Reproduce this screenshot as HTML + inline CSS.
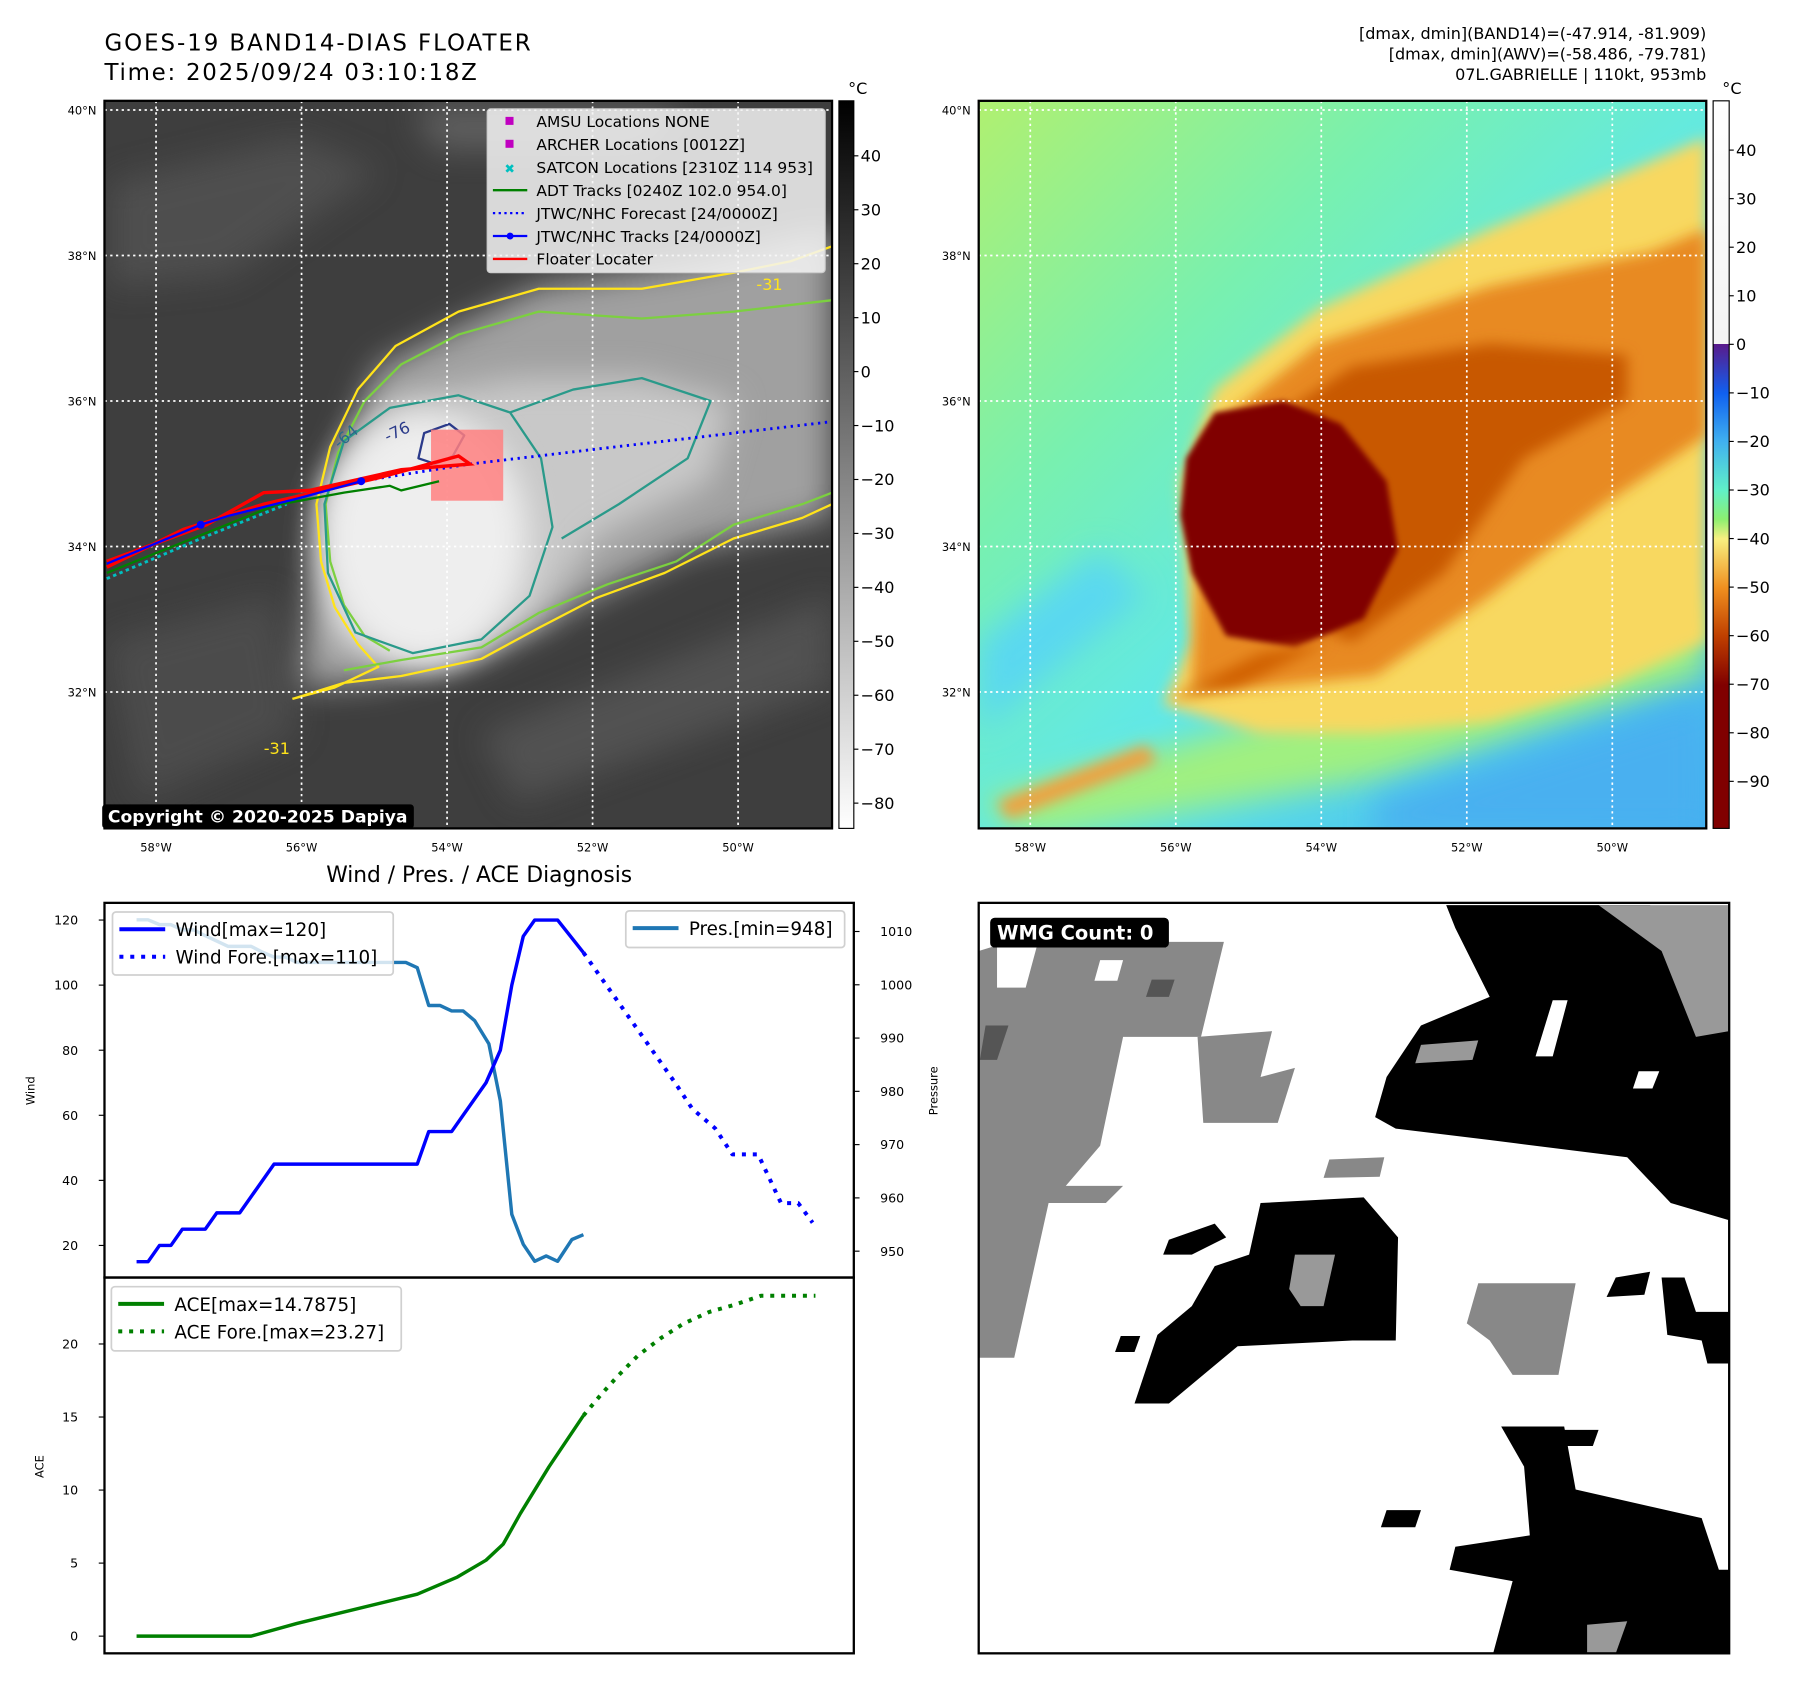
<!DOCTYPE html>
<html><head><meta charset="utf-8">
<style>
html,body{margin:0;padding:0;background:#fff;width:1797px;height:1690px;overflow:hidden}
svg{display:block}
text{font-family:"DejaVu Sans","Liberation Sans",sans-serif}
</style></head>
<body>
<svg id="root" width="1797" height="1690" viewBox="0 0 1568 1475" xmlns="http://www.w3.org/2000/svg">
<defs>
  <filter id="b6" x="-20%" y="-20%" width="140%" height="140%"><feGaussianBlur stdDeviation="6"/></filter>
  <filter id="b14" x="-30%" y="-30%" width="160%" height="160%"><feGaussianBlur stdDeviation="14"/></filter>
  <filter id="b3"><feGaussianBlur stdDeviation="2.5"/></filter>
  <clipPath id="clipL"><rect x="91" y="88" width="635" height="635"/></clipPath>
  <clipPath id="clipR"><rect x="854" y="88" width="635" height="635"/></clipPath>
  <clipPath id="clipW"><rect x="854" y="788" width="655" height="655"/></clipPath>
  <linearGradient id="cbGray" x1="0" y1="0" x2="0" y2="1">
    <stop offset="0" stop-color="#000"/><stop offset="1" stop-color="#fff"/>
  </linearGradient>
  <linearGradient id="cbJet" x1="0" y1="0" x2="0" y2="1">
    <stop offset="0" stop-color="#ffffff"/><stop offset="0.334" stop-color="#f4f4f4"/>
    <stop offset="0.334" stop-color="#5a1a8a"/><stop offset="0.402" stop-color="#1060f0"/>
    <stop offset="0.468" stop-color="#40b0f0"/><stop offset="0.535" stop-color="#60f0c8"/>
    <stop offset="0.575" stop-color="#8cf070"/><stop offset="0.602" stop-color="#f8f080"/>
    <stop offset="0.669" stop-color="#f09020"/><stop offset="0.735" stop-color="#c04000"/>
    <stop offset="0.803" stop-color="#800000"/><stop offset="1" stop-color="#800000"/>
  </linearGradient>
  <linearGradient id="bgR" x1="0" y1="0" x2="1" y2="1">
    <stop offset="0" stop-color="#b0f070"/><stop offset="0.3" stop-color="#78f0b0"/>
    <stop offset="0.55" stop-color="#60e8e8"/><stop offset="1" stop-color="#40b0f0"/>
  </linearGradient>
</defs>

<!-- Titles -->
<text x="91" y="44" font-size="20" textLength="372">GOES-19 BAND14-DIAS FLOATER</text>
<text x="91" y="70" font-size="20" textLength="325">Time: 2025/09/24 03:10:18Z</text>
<g font-size="14" text-anchor="end">
  <text x="1489" y="34">[dmax, dmin](BAND14)=(-47.914, -81.909)</text>
  <text x="1489" y="52">[dmax, dmin](AWV)=(-58.486, -79.781)</text>
  <text x="1489" y="70">07L.GABRIELLE | 110kt, 953mb</text>
</g>

<!-- LEFT MAP -->
<g>
 <g clip-path="url(#clipL)">
  <rect x="91" y="88" width="635" height="635" fill="#3e3e3e"/>
  <g filter="url(#b14)" opacity="0.6">
    <path d="M95,160 L260,120 L330,150 L200,240 L95,250Z" fill="#5a5a5a"/>
    <path d="M91,560 L240,520 L260,640 L120,700Z" fill="#555"/>
    <path d="M420,640 L726,520 L726,600 L450,700Z" fill="#5e5e5e"/>
    <path d="M360,92 L600,92 L560,130 L380,130Z" fill="#777"/>
  </g>
  <path filter="url(#b14)" d="M262,600 L280,440 L330,320 L470,250 L600,230 L726,200 L726,450 L600,480 L500,530 L420,570 L330,595Z" fill="#a0a0a0"/>
  <path filter="url(#b14)" d="M290,560 L285,430 L340,350 L450,330 L560,330 L640,350 L620,420 L520,470 L470,540 L380,580Z" fill="#c8c8c8"/>
  <ellipse filter="url(#b14)" cx="370" cy="470" rx="90" ry="110" fill="#eeeeee"/>
  <g fill="none" stroke-width="2" stroke-linejoin="round">
    <path stroke="#ffe31a" d="M255,610 L300,596 L350,590 L420,575 L470,548 L520,522 L580,500 L640,470 L700,452 L726,440 M726,215 L690,228 L640,238 L560,252 L470,252 L400,272 L345,302 L312,340 L288,390 L276,440 L280,490 L292,530 L312,562 L330,582 L292,600 L255,610"/>
    <path stroke="#7cd040" d="M300,585 L350,576 L420,565 L470,535 L530,510 L590,490 L640,458 L700,440 L726,430 M726,262 L640,272 L560,278 L470,272 L400,292 L350,318 L318,350 L295,395 L284,440 L288,490 L300,528 L318,555 L340,568"/>
    <path stroke="#2a9a8a" d="M283,440 L300,385 L340,356 L400,345 L445,360 L472,400 L482,460 L462,520 L420,558 L360,570 L310,552 L286,500Z M445,360 L500,340 L560,330 L620,350 L600,400 L540,440 L490,470"/>
    <path stroke="#2a3a8a" d="M365,400 L370,378 L392,370 L405,380 L395,398 L380,405Z"/>
  </g>
  <g font-size="14"><text x="660" y="253" fill="#ffe31a">-31</text><text x="230" y="658" fill="#ffe31a">-31</text></g>
  <g font-size="14"><text x="296" y="392" fill="#2a6a8a" transform="rotate(-40 296 392)">-64</text><text x="338" y="386" fill="#2a3a8a" transform="rotate(-25 338 386)">-76</text></g>
  <g stroke="#fff" stroke-width="1.5" stroke-dasharray="2,3">
    <line x1="91" x2="726" y1="96" y2="96"/><line x1="91" x2="726" y1="223" y2="223"/><line x1="91" x2="726" y1="350" y2="350"/><line x1="91" x2="726" y1="477" y2="477"/><line x1="91" x2="726" y1="604" y2="604"/>
    <line y1="88" y2="723" x1="136" x2="136"/><line y1="88" y2="723" x1="263" x2="263"/><line y1="88" y2="723" x1="390" x2="390"/><line y1="88" y2="723" x1="517" x2="517"/><line y1="88" y2="723" x1="644" x2="644"/>
  </g>
  <rect x="376" y="375" width="63" height="62" fill="#ff8080" opacity="0.85"/>
  <polyline points="315,420 410,405 520,392 726,368" fill="none" stroke="#0000ff" stroke-width="2.5" stroke-dasharray="2,4"/>
  <polyline points="93,505 180,468 250,440" fill="none" stroke="#00c0c0" stroke-width="2.5" stroke-dasharray="3,3"/>
  <polyline points="93,500 240,441 300,430 340,424 350,428 383,420" fill="none" stroke="#008000" stroke-width="2"/>
  <polyline points="93,490 180,458 230,430 270,428 350,410 410,405 400,398 330,417 230,440 160,462 93,495" fill="none" stroke="#ff0000" stroke-width="3"/>
  <polyline points="93,492 175,458 200,450 260,435 315,420" fill="none" stroke="#0000ff" stroke-width="2"/>
  <circle cx="175" cy="458" r="3.5" fill="#0000ff"/><circle cx="315" cy="420" r="3.5" fill="#0000ff"/>
 </g>
 <rect x="91" y="88" width="635" height="635" fill="none" stroke="#000" stroke-width="2"/>
 <g>
  <rect x="425" y="95" width="295" height="143" rx="3" fill="#f4f4f4" fill-opacity="0.85" stroke="#ccc"/>
  <rect x="441" y="102" width="7" height="7" fill="#c000c0"/>
  <rect x="441" y="122" width="7" height="7" fill="#c000c0"/>
  <text x="440" y="151" font-size="11" fill="#00c0c0">✖</text>
  <line x1="430" x2="460" y1="166" y2="166" stroke="#008000" stroke-width="2"/>
  <line x1="430" x2="460" y1="186" y2="186" stroke="#0000ff" stroke-width="2" stroke-dasharray="2,3"/>
  <line x1="430" x2="460" y1="206" y2="206" stroke="#0000ff" stroke-width="2"/><circle cx="445" cy="206" r="3" fill="#0000ff"/>
  <line x1="430" x2="460" y1="226" y2="226" stroke="#ff0000" stroke-width="2"/>
  <g font-size="13.5">
   <text x="468" y="111">AMSU Locations NONE</text>
   <text x="468" y="131">ARCHER Locations [0012Z]</text>
   <text x="468" y="151">SATCON Locations [2310Z 114 953]</text>
   <text x="468" y="171">ADT Tracks [0240Z 102.0 954.0]</text>
   <text x="468" y="191">JTWC/NHC Forecast [24/0000Z]</text>
   <text x="468" y="211">JTWC/NHC Tracks [24/0000Z]</text>
   <text x="468" y="231">Floater Locater</text>
  </g>
 </g>
 <rect x="89" y="702" width="272" height="21" rx="3" fill="#000"/>
 <text x="94" y="718" font-size="15" font-weight="bold" fill="#fff">Copyright © 2020-2025 Dapiya</text>
 <g id="latL" font-size="10"></g>
 <rect x="732" y="88" width="13" height="635" fill="url(#cbGray)" stroke="#000" stroke-width="1"/>
 <text x="740" y="82" font-size="14">°C</text>
 <g id="cbL" font-size="14"></g>
</g>

<!-- RIGHT MAP -->
<g>
 <g clip-path="url(#clipR)">
  <rect x="854" y="88" width="635" height="635" fill="url(#bgR)"/>
  <path filter="url(#b14)" d="M854,560 L960,480 L1000,520 L854,640Z" fill="#5ad8f0"/>
  <path filter="url(#b14)" d="M854,700 L1200,600 L1489,520 L1489,590 L1200,680 L900,730Z" fill="#a0f080"/>
  <path filter="url(#b14)" d="M1200,700 L1489,610 L1489,730 L1200,730Z" fill="#48b0f0"/>
  <path filter="url(#b6)" d="M1015,615 L1040,560 L1030,420 L1060,340 L1150,270 L1300,200 L1420,150 L1489,120 L1489,560 L1400,600 L1300,630 L1200,640 L1100,640Z" fill="#f8d860"/>
  <path filter="url(#b6)" d="M1040,600 L1050,380 L1150,300 L1300,250 L1440,220 L1489,200 L1489,380 L1400,440 L1300,520 L1200,590 L1100,600Z" fill="#e88a20"/>
  <path filter="url(#b6)" d="M1080,520 L1090,380 L1180,320 L1300,300 L1420,310 L1420,350 L1330,400 L1260,500 L1180,560Z" fill="#c85800"/>
  <path filter="url(#b3)" d="M1035,400 L1060,360 L1120,350 L1170,370 L1210,420 L1220,480 L1190,540 L1130,565 L1070,555 L1040,500 L1030,450Z" fill="#800000"/>
  <path filter="url(#b6)" d="M1020,610 L1100,570 L1160,560 L1080,600Z" fill="#d06000"/>
  <path filter="url(#b6)" d="M870,700 L1000,650 L1010,665 L880,715Z" fill="#f0a040"/>
  <g stroke="#fff" stroke-width="1.5" stroke-dasharray="2,3">
    <line x1="854" x2="1489" y1="96" y2="96"/><line x1="854" x2="1489" y1="223" y2="223"/><line x1="854" x2="1489" y1="350" y2="350"/><line x1="854" x2="1489" y1="477" y2="477"/><line x1="854" x2="1489" y1="604" y2="604"/>
    <line y1="88" y2="723" x1="899" x2="899"/><line y1="88" y2="723" x1="1026" x2="1026"/><line y1="88" y2="723" x1="1153" x2="1153"/><line y1="88" y2="723" x1="1280" x2="1280"/><line y1="88" y2="723" x1="1407" x2="1407"/>
  </g>
 </g>
 <rect x="854" y="88" width="635" height="635" fill="none" stroke="#000" stroke-width="2"/>
 <g id="latR" font-size="10"></g>
 <rect x="1495" y="88" width="14" height="635" fill="url(#cbJet)" stroke="#000" stroke-width="1"/>
 <text x="1503" y="82" font-size="14">°C</text>
 <g id="cbR" font-size="14"></g>
</g>

<!-- DIAGNOSIS CHART -->
<text x="418" y="770" font-size="19" text-anchor="middle">Wind / Pres. / ACE Diagnosis</text>
<g id="chart"></g>

<!-- WMG MAP -->
<g>
 <g clip-path="url(#clipW)">
  <rect x="854" y="788" width="655" height="655" fill="#fff"/>
  <g fill="#888">
   <polygon points="854,830 880,822 1068,822 1048,905 980,905 960,1000 930,1035 980,1035 965,1050 915,1050 895,1140 885,1185 854,1185"/>
   <polygon points="1045,905 1110,900 1100,940 1130,932 1115,980 1050,980"/>
   <polygon points="1290,1120 1375,1120 1360,1200 1320,1200 1300,1170 1280,1155"/>
   <polygon points="1160,1012 1208,1010 1204,1027 1155,1028"/>
  </g>
  <g fill="#fff"><polygon points="960,838 980,838 975,856 955,856"/><polygon points="870,825 905,825 895,862 870,862"/></g>
  <g fill="#555"><polygon points="1005,855 1025,855 1020,870 1000,870"/><polygon points="860,895 880,895 870,925 855,925"/></g>
  <g fill="#000">
   <polygon points="1262,790 1440,790 1480,850 1509,900 1509,1065 1458,1050 1420,1010 1300,995 1218,985 1200,975 1210,940 1240,895 1300,870 1270,810"/>
   <polygon points="1100,1050 1190,1045 1220,1080 1218,1170 1180,1170 1080,1175 1050,1200 1020,1225 990,1225 1010,1165 1040,1140 1060,1105 1090,1095"/>
   <polygon points="1020,1082 1060,1068 1070,1080 1040,1095 1015,1095"/>
   <polygon points="1310,1245 1365,1245 1375,1300 1485,1325 1500,1370 1509,1370 1509,1443 1303,1443 1320,1380 1265,1370 1270,1350 1335,1340 1330,1280"/>
   <polygon points="1450,1115 1470,1115 1480,1145 1509,1145 1509,1190 1490,1190 1485,1170 1455,1165"/>
   <polygon points="1410,1115 1440,1110 1435,1130 1402,1132"/>
   <polygon points="1210,1318 1240,1318 1235,1333 1205,1333"/>
   <polygon points="1360,1248 1395,1248 1390,1262 1357,1262"/>
   <polygon points="978,1166 995,1166 990,1180 973,1180"/>
  </g>
  <g fill="#999">
   <polygon points="1395,790 1509,790 1509,900 1480,905 1450,830"/>
   <polygon points="1130,1095 1165,1095 1155,1140 1135,1140 1125,1125"/>
   <polygon points="1240,912 1290,908 1285,925 1235,928"/>
   <polygon points="1385,1418 1420,1415 1410,1443 1385,1443"/>
  </g>
  <g fill="#fff"><polygon points="1355,873 1368,873 1355,922 1340,922"/><polygon points="1430,935 1448,935 1442,950 1425,950"/></g>
 </g>
 <rect x="854" y="788" width="655" height="655" fill="none" stroke="#000" stroke-width="2"/>
 <rect x="864" y="801" width="156" height="26" rx="4" fill="#000"/>
 <text x="870" y="820" font-size="17" font-weight="bold" fill="#fff">WMG Count: 0</text>
</g>

<script>
// ---- chart data ----
const windT = [0,1,2,3,4,6,7,9,10,12,24.5,25.5,27.5,28.5,30.5,31.75,32.75,33.75,34.75,36.75,39];
const windV = [15,15,20,20,25,25,30,30,35,45,45,55,55,60,70,80,100,115,120,120,110];
const windFT = [39,41,43,45,47,48.5,50.5,52,54.25,56.25,57.75,59];
const windFV = [110,100,90,80,70,62,56,48,48,33,33,27];
const presT = [0,1,2,3,4,5,6,8,10,11,12,13,14,23.5,24.5,25.5,26.5,27.5,28.5,29.5,30.75,31.75,32.75,33.75,34.75,35.75,36.75,38,39];
const presV = [1012.2,1012.2,1011.3,1011.3,1010.3,1010.3,1009.2,1007.2,1007.2,1006.1,1005.2,1005.2,1004.2,1004.2,1003.2,996.1,996.1,995.1,995.1,993.3,988.9,978.2,956.9,951.3,948.1,949.1,948.1,952.2,953.1];
const aceT = [0,10,14,24.5,28,30.5,32,33.5,36,39];
const aceV = [0,0,0.87,2.87,4.05,5.2,6.3,8.4,11.6,15.1];
const aceFT = [39,40.5,42,43.75,45.75,47.75,50,52.25,54.5,59.25];
const aceFV = [15.1,16.5,17.8,19.2,20.4,21.4,22.2,22.7,23.3,23.3];
const windTicks = [20,40,60,80,100,120];
const presTicks = [950,960,970,980,990,1000,1010];
const aceTicks = [0,5,10,15,20];
const irTicks = [40,30,20,10,0,-10,-20,-30,-40,-50,-60,-70,-80];
const awvTicks = [40,30,20,10,0,-10,-20,-30,-40,-50,-60,-70,-80,-90];
const latLabels = ["40°N","38°N","36°N","34°N","32°N"];
const lonLabels = ["58°W","56°W","54°W","52°W","50°W"];

const NS = "http://www.w3.org/2000/svg";
function mk(tag, attrs, parent, txt){const e=document.createElementNS(NS,tag);for(const k in attrs)e.setAttribute(k,attrs[k]);if(txt!==undefined)e.textContent=txt;parent.appendChild(e);return e;}
const fmt = v => v<0 ? "\u2212"+Math.abs(v) : String(v);

const tMin=-2.8, tMax=62.6;
const xT = t => 91 + (t - tMin)/(tMax - tMin)*654;
const yW = v => 803 + (120 - v)*2.84;
const yP = p => 813 + (1010 - p)*4.65;
const yA = a => 1428 - a*12.75;
const lat = i => 96 + i*127;
const lonL = i => 136 + i*127;
const lonR = i => 899 + i*127;

const gL=document.getElementById('latL'), gR=document.getElementById('latR');
latLabels.forEach((s,i)=>{
  const a=mk('text',{x:84,y:lat(i)+4,'text-anchor':'end','font-size':10},gL,s);
  
  
  const b=mk('text',{x:847,y:lat(i)+4,'text-anchor':'end','font-size':10},gR,s);
  
  
});
lonLabels.forEach((s,i)=>{
  const a=mk('text',{x:lonL(i),y:743,'text-anchor':'middle','font-size':10},gL,s);
  
  
  const b=mk('text',{x:lonR(i),y:743,'text-anchor':'middle','font-size':10},gR,s);
  
  
});
const cbL=document.getElementById('cbL');
irTicks.forEach(v=>{const y=136+(40-v)*4.708;
  mk('line',{x1:745,x2:749,y1:y,y2:y,stroke:'#000'},cbL);
  const t=mk('text',{x:751,y:y+5},cbL,fmt(v));
  
  
});
const cbR=document.getElementById('cbR');
awvTicks.forEach(v=>{const y=131+(40-v)*4.238;
  mk('line',{x1:1509,x2:1513,y1:y,y2:y,stroke:'#000'},cbR);
  const t=mk('text',{x:1515,y:y+5},cbR,fmt(v));
  
  
});

const ch=document.getElementById('chart');
const line=(ts,vs,ys,color,w,dash,name)=>{
  const pts=ts.map((t,i)=>xT(t).toFixed(1)+','+ys(vs[i]).toFixed(1)).join(' ');
  const a={points:pts,fill:'none',stroke:color,'stroke-width':w,'stroke-linejoin':'round'};
  if(dash)a['stroke-dasharray']=dash;
  const p=mk('polyline',a,ch);
  
  
};
line(presT,presV,yP,'#1f77b4',3,null,'pressure-line');
line(windT,windV,yW,'#0000ff',3,null,'wind-line');
line(windFT,windFV,yW,'#0000ff',3.5,'3.5,6','wind-forecast-line');
line(aceT,aceV,yA,'#008000',3,null,'ace-line');
line(aceFT,aceFV,yA,'#008000',3.5,'3.5,6','ace-forecast-line');

mk('rect',{x:91,y:788,width:654,height:327,fill:'none',stroke:'#000','stroke-width':2},ch);
mk('rect',{x:91,y:1115,width:654,height:328,fill:'none',stroke:'#000','stroke-width':2},ch);
windTicks.forEach(v=>{const y=yW(v);mk('line',{x1:86,x2:91,y1:y,y2:y,stroke:'#000'},ch);
  const t=mk('text',{x:68,y:y+4,'text-anchor':'end','font-size':11},ch,v);
  
  });
presTicks.forEach(v=>{const y=yP(v);mk('line',{x1:745,x2:750,y1:y,y2:y,stroke:'#000'},ch);
  const t=mk('text',{x:768,y:y+4,'font-size':11},ch,v);
  
  });
aceTicks.forEach(v=>{const y=yA(v);mk('line',{x1:86,x2:91,y1:y,y2:y,stroke:'#000'},ch);
  const t=mk('text',{x:68,y:y+4,'text-anchor':'end','font-size':11},ch,v);
  
  });
const at=(txt,x,y,name)=>{const t=mk('text',{x:x,y:y,'font-size':10,'text-anchor':'middle',transform:`rotate(-90 ${x} ${y})`},ch,txt);
  
  };
at('Wind',30,952,'wind-axis-title'); at('Pressure',818,952,'pressure-axis-title'); at('ACE',38,1280,'ace-axis-title');

const leg=(x,y,w,h,items,name)=>{
  const g=mk('g',{},ch);
  
  
  mk('rect',{x:x,y:y,width:w,height:h,rx:3,fill:'#fff','fill-opacity':0.8,stroke:'#d0d0d0','stroke-width':1.5},g);
  items.forEach((it,i)=>{const cy=y+15+i*24;
    const a={x1:x+6,x2:x+46,y1:cy,y2:cy,stroke:it[1],'stroke-width':3.5};if(it[2])a['stroke-dasharray']='3.5,6';
    mk('line',a,g); mk('text',{x:x+55,y:cy+6,'font-size':16},g,it[0]);});
};
leg(98,796,245,55,[['Wind[max=120]','#0000ff',0],['Wind Fore.[max=110]','#0000ff',1]],'wind-legend');
leg(546,795,191,32,[['Pres.[min=948]','#1f77b4',0]],'pressure-legend');
leg(97,1123,253,56,[['ACE[max=14.7875]','#008000',0],['ACE Fore.[max=23.27]','#008000',1]],'ace-legend');
</script>
</svg>
</body></html>
